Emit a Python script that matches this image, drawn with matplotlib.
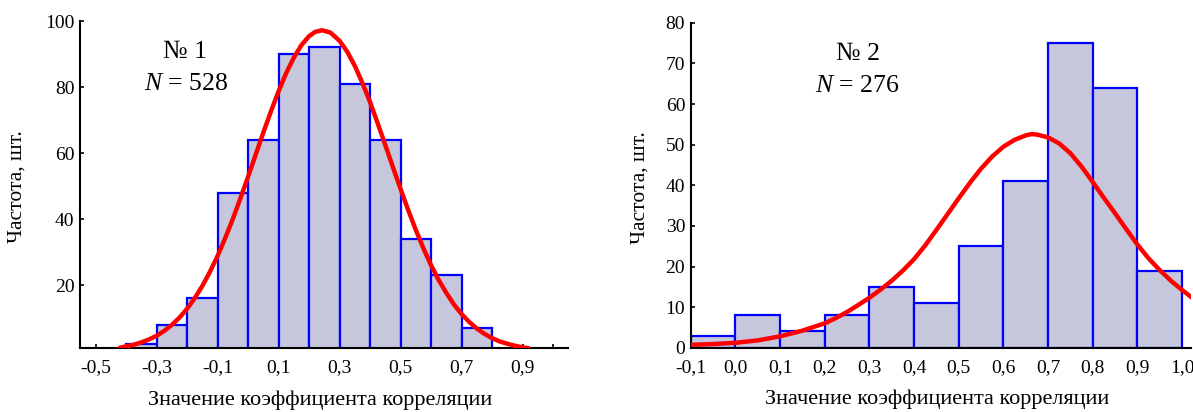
import numpy as np
import matplotlib
matplotlib.use("Agg")
import matplotlib.pyplot as plt

plt.rcParams['font.family'] = ['Liberation Serif', 'DejaVu Serif']
plt.rcParams['mathtext.fontset'] = 'custom'
plt.rcParams['mathtext.it'] = 'Liberation Serif:italic'
plt.rcParams['mathtext.rm'] = 'Liberation Serif'

# sample 1: histogram of correlation coefficients
edges1 = [-0.4, -0.3, -0.2, -0.1, 0.0, 0.1, 0.2, 0.3, 0.4, 0.5, 0.6, 0.7]
counts1 = [2, 8, 16, 48, 64, 90, 92, 81, 64, 34, 23, 7]
curve1_x = [-0.42, -0.40, -0.375, -0.35, -0.325, -0.30, -0.275, -0.25, -0.225, -0.20,
            -0.175, -0.15, -0.125, -0.10, -0.075, -0.05, -0.025, 0.00, 0.025, 0.05,
            0.075, 0.10, 0.125, 0.15, 0.175, 0.20, 0.22, 0.243, 0.27, 0.30,
            0.325, 0.35, 0.375, 0.40, 0.425, 0.45, 0.475, 0.50, 0.525, 0.55,
            0.575, 0.60, 0.625, 0.65, 0.675, 0.70, 0.725, 0.75, 0.775, 0.80,
            0.825, 0.85, 0.875, 0.90, 0.92]
curve1_y = [1.0, 1.4, 1.9, 2.6, 3.5, 4.6, 6.1, 7.9, 10.1, 12.8,
            16.0, 19.7, 24.0, 28.8, 34.2, 40.0, 46.3, 52.8, 59.5, 66.2,
            72.6, 78.7, 84.2, 88.9, 92.7, 95.4, 96.7, 97.2, 96.5, 94.0,
            90.7, 86.4, 81.2, 75.4, 69.0, 62.4, 55.7, 49.1, 42.7, 36.7,
            31.1, 26.0, 21.5, 17.6, 14.1, 11.2, 8.8, 6.8, 5.2, 3.9,
            2.9, 2.2, 1.6, 1.1, 0.85]
ticks1 = [-0.5, -0.4, -0.3, -0.2, -0.1, 0.0, 0.1, 0.2, 0.3, 0.4, 0.5, 0.6, 0.7, 0.8, 0.9, 1.0]
ticklabels1 = ['-0,5', '', '-0,3', '', '-0,1', '', '0,1', '', '0,3', '', '0,5', '', '0,7', '', '0,9', '']

# sample 2
edges2 = [-0.1, 0.0, 0.1, 0.2, 0.3, 0.4, 0.5, 0.6, 0.7, 0.8, 0.9]
counts2 = [3, 8, 4, 8, 15, 11, 25, 41, 75, 64, 19]
curve2_x = [-0.10, -0.05, 0.00, 0.05, 0.10, 0.15, 0.20, 0.225, 0.25, 0.275,
            0.30, 0.325, 0.35, 0.375, 0.40, 0.425, 0.45, 0.475, 0.50, 0.525,
            0.55, 0.575, 0.60, 0.625, 0.65, 0.663, 0.675, 0.70, 0.725, 0.75,
            0.775, 0.80, 0.825, 0.85, 0.875, 0.90, 0.925, 0.95, 0.975, 1.00,
            1.025, 1.04]
curve2_y = [0.7, 0.9, 1.2, 1.8, 2.8, 4.2, 6.0, 7.3, 8.8, 10.5,
            12.3, 14.3, 16.5, 19.0, 21.8, 25.2, 29.0, 32.9, 36.8, 40.6,
            44.1, 47.1, 49.5, 51.2, 52.3, 52.6, 52.5, 51.8, 50.3, 47.9,
            44.6, 40.8, 36.9, 33.1, 29.2, 25.4, 22.0, 19.1, 16.5, 14.2,
            12.1, 11.0]
ticks2 = [-0.1, 0.0, 0.1, 0.2, 0.3, 0.4, 0.5, 0.6, 0.7, 0.8, 0.9, 1.0]
ticklabels2 = ['-0,1', '0,0', '0,1', '0,2', '0,3', '0,4', '0,5', '0,6', '0,7', '0,8', '0,9', '1,0']

bar_face = '#c6c7dd'
bar_edge = '#0000ff'
line_red = '#ff0000'

fig = plt.figure(figsize=(11.93, 4.12), dpi=100)
ax1 = fig.add_axes([80 / 1193, 64.3 / 412, 487.7 / 1193, 326.7 / 412])
ax2 = fig.add_axes([690.7 / 1193, 64.3 / 412, 500.3 / 1193, 324.8 / 412])


def style(ax):
    for s in ['top', 'right']:
        ax.spines[s].set_visible(False)
    for s in ['left', 'bottom']:
        ax.spines[s].set_linewidth(1.5)
        ax.spines[s].set_color('black')
    ax.tick_params(direction='in', length=3, width=1.2, labelsize=14, colors='black')
    ax.tick_params(axis='x', pad=8)
    ax.tick_params(axis='y', pad=4)


ax1.bar(edges1, counts1, width=0.1, align='edge', color=bar_face,
        edgecolor=bar_edge, linewidth=1.6, zorder=2)
ax1.plot(curve1_x, curve1_y, color=line_red, lw=3.2, zorder=3, solid_capstyle='round')
ax1.set_xlim(-0.551, 1.048)
ax1.set_ylim(1.0, 100)
ax1.set_xticks(ticks1)
ax1.set_xticklabels(ticklabels1)
ax1.set_yticks([20, 40, 60, 80, 100])
style(ax1)
ax1.text(0.215, 0.905, '№ 1', transform=ax1.transAxes, ha='center', va='center', fontsize=18.5)
ax1.text(0.218, 0.806, '$\\mathit{N}$ = 528', transform=ax1.transAxes, ha='center', va='center', fontsize=18.5)

ax2.bar(edges2, counts2, width=0.1, align='edge', color=bar_face,
        edgecolor=bar_edge, linewidth=1.6, zorder=2)
ax2.plot(curve2_x, curve2_y, color=line_red, lw=3.2, zorder=3, solid_capstyle='round')
ax2.set_xlim(-0.1, 1.02)
ax2.set_ylim(0, 80)
ax2.set_xticks(ticks2)
ax2.set_xticklabels(ticklabels2)
ax2.set_yticks(range(0, 81, 10))
style(ax2)
ax2.text(0.334, 0.905, '№ 2', transform=ax2.transAxes, ha='center', va='center', fontsize=18.5)
ax2.text(0.334, 0.806, '$\\mathit{N}$ = 276', transform=ax2.transAxes, ha='center', va='center', fontsize=18.5)

for ax, lx, xc in [(ax1, -0.129, 0.492), (ax2, -0.101, 0.492)]:
    ax.set_ylabel('Частота, шт.', fontsize=15.5)
    ax.yaxis.set_label_coords(lx, 0.492)
    ax.yaxis.label.set_va('center')
    ax.set_xlabel('Значение коэффициента корреляции', fontsize=16)
    ax.xaxis.set_label_coords(xc, -0.16)
    ax.xaxis.label.set_va('center')

fig.savefig('out.png', dpi=100)
